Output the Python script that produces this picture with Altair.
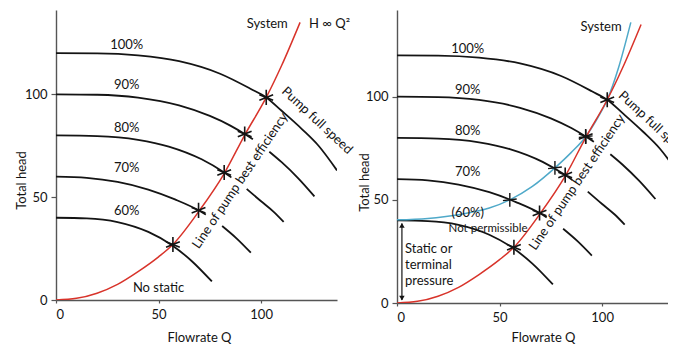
import altair as alt
import pandas as pd

FONT = "Lato"
INK = "#141414"
AXIS = "#555555"
RED = "#d8332a"
BLUE = "#4fa9c9"
FS = 13

# ---- pump curves (flow Q, head H) ----
Q_100 = [0, 20, 40, 60, 80, 95, 102.5, 110, 120, 128, 137]
H_100 = [120, 119.9, 118.9, 116.1, 110, 102.6, 98.5, 92, 83, 75, 63]
Q_90 = [0, 20, 40, 60, 75, 85, 92, 96]
H_90 = [100, 99.8, 98.4, 94.6, 89.5, 84.8, 80.7, 78.1]
Q_90_TAIL = [104, 110, 118, 126]
H_90_TAIL = [72.1, 67, 59.3, 50.4]
Q_80 = [0, 20, 40, 55, 71, 82, 85.5]
H_80 = [80, 79.7, 77.9, 74.6, 68.4, 62, 59.6]
Q_80_TAIL = [93, 100, 106, 111]
H_80_TAIL = [54, 48, 43, 38]
Q_70 = [0, 15, 30, 45, 58, 69.5, 73]
H_70 = [60, 59.4, 57.4, 53.7, 48.9, 43.6, 41.5]
Q_70_TAIL = [81, 88, 95]
H_70_TAIL = [36, 30, 23]
Q_60 = [0, 15, 30, 45, 56, 66, 76]
H_60 = [40, 39.7, 37.9, 33.1, 27, 19.1, 9]

# system curve with no static head (red)
Q_SYS = [0, 10, 20, 30, 40, 50, 57, 70, 82, 92, 102.5, 110, 119]
H_SYS = [0, 0.8, 3.3, 7.6, 13.8, 21, 27, 43.6, 61.5, 80.2, 98.5, 114, 135]
# system curve with static head (blue, right panel)
Q_BLUE = [0, 15, 30, 45, 55, 66, 77, 85, 92, 98, 102.5, 108, 114]
H_BLUE = [40.3, 41, 42.8, 46, 50, 56.5, 65.5, 73, 80.6, 90, 98.5, 114, 136]

# best efficiency points (stars) and blue operating points (crosses)
STAR_Q = [57, 69.5, 82, 92, 102.5]
STAR_H = [27, 43.6, 62, 80.7, 98.5]
CROSS_Q = [55, 77, 92]
CROSS_H = [50, 65.5, 80.6]

SPEED_LABELS = ["100%", "90%", "80%", "70%", "60%"]
LABEL_H_LEFT = [124, 104.3, 83.6, 64, 43.5]
LABEL_H_RIGHT = [123, 103.4, 83.6, 63.3, 43.5]

X_TICKS = [0, 50, 100]
Y_TICKS = [0, 50, 100]

STAR_PATH = "M0,-1.1L0,1.1M-1,-0.4L1,0.4M-1,0.4L1,-0.4"
CROSS_PATH = "M0,-1L0,1M-1,0.12L1,-0.12"

pump_parts = [
    ("100", Q_100, H_100), ("90a", Q_90, H_90), ("90b", Q_90_TAIL, H_90_TAIL),
    ("80a", Q_80, H_80), ("80b", Q_80_TAIL, H_80_TAIL),
    ("70a", Q_70, H_70), ("70b", Q_70_TAIL, H_70_TAIL), ("60", Q_60, H_60),
]
pump_df = pd.DataFrame(
    [{"Q": q, "H": h, "seg": name} for name, qs, hs in pump_parts for q, h in zip(qs, hs)]
)
sys_df = pd.DataFrame({"Q": Q_SYS, "H": H_SYS})
blue_df = pd.DataFrame({"Q": Q_BLUE, "H": H_BLUE})
star_df = pd.DataFrame({"Q": STAR_Q, "H": STAR_H})
cross_df = pd.DataFrame({"Q": CROSS_Q, "H": CROSS_H})

PX_PER_UNIT = 281 / 137


def txt(df, **kw):
    opts = dict(font=FONT, fontSize=FS, color=INK, align="center", baseline="middle")
    opts.update(kw)
    return alt.Chart(df).mark_text(**opts).encode(x="Q:Q", y="H:Q", text="t:N")


def make_panel(right):
    width = 271 if right else 281
    xmax = width / PX_PER_UNIT
    height = 293 if right else 290
    ymax = 142 if right else 141
    x = alt.X("Q:Q", scale=alt.Scale(domain=[0, xmax], nice=False, zero=False),
              axis=alt.Axis(values=X_TICKS, title="Flowrate Q", titleX=146 if right else 143,
                            titleY=34 if right else 37, titleAlign="center", titleBaseline="middle",
                            tickSize=3, labelPadding=5))
    y = alt.Y("H:Q", scale=alt.Scale(domain=[0, ymax], nice=False, zero=False),
              axis=alt.Axis(values=Y_TICKS, title="Total head", titleX=-33 if right else -35,
                            titleY=172 if right else 170, titleAngle=270, titleAlign="center",
                            titleBaseline="middle", tickSize=5, labelPadding=4))
    layers = []
    layers.append(alt.Chart(pump_df).mark_line(color=INK, strokeWidth=1.8, interpolate="monotone", clip=True)
                  .encode(x=x, y=y, detail="seg:N"))
    if right:
        layers.append(alt.Chart(blue_df).mark_line(color=BLUE, strokeWidth=1.5, interpolate="monotone", clip=True)
                      .encode(x="Q:Q", y="H:Q"))
    layers.append(alt.Chart(sys_df).mark_line(color=RED, strokeWidth=1.5, interpolate="monotone", clip=True)
                  .encode(x="Q:Q", y="H:Q"))
    layers.append(alt.Chart(star_df).mark_point(shape=STAR_PATH, size=190, filled=False, color=INK, strokeWidth=1.6, opacity=1)
                  .encode(x="Q:Q", y="H:Q"))
    if right:
        layers.append(alt.Chart(cross_df).mark_point(shape=CROSS_PATH, size=190, filled=False, color=INK, strokeWidth=1.4, opacity=1)
                      .encode(x="Q:Q", y="H:Q"))

    # speed labels
    lab_h = LABEL_H_RIGHT if right else LABEL_H_LEFT
    texts = SPEED_LABELS[:4] + (["(60%)"] if right else ["60%"])
    layers.append(txt(pd.DataFrame({"Q": [34.5] * 5, "H": lab_h, "t": texts})))

    if right:
        plain = pd.DataFrame({"Q": [99.5], "H": [134], "t": ["System"]})
    else:
        plain = pd.DataFrame({"Q": [103, 50], "H": [134.3, 5.8], "t": ["System", "No static"]})
    layers.append(txt(plain))
    if not right:
        layers.append(txt(pd.DataFrame({"Q": [123.4], "H": [134.3], "t": ["H ∞ Q²"]}), align="left"))

    eff = pd.DataFrame({"Q": [87.8 if right else 89.8], "H": [58.5 if right else 58],
                        "t": ["Line of pump best efficiency"]})
    layers.append(txt(eff, angle=304))
    full = pd.DataFrame({"Q": [109 if right else 111], "H": [101.5 if right else 102.4], "t": ["Pump full speed"]})
    layers.append(txt(full, align="left", angle=43, clip=right))

    if right:
        layers.append(txt(pd.DataFrame({"Q": [44.4], "H": [35.7], "t": ["Not permissible"]}), fontSize=11.5))
        stat = pd.DataFrame({"Q": [3.9] * 3, "H": [26.1, 18.4, 10.6], "t": ["Static or", "terminal", "pressure"]})
        layers.append(txt(stat, align="left"))
        arr = pd.DataFrame({"Q": [2.4], "H0": [1.5], "H1": [38.5]})
        layers.append(alt.Chart(arr).mark_rule(color=INK, strokeWidth=1.2)
                      .encode(x="Q:Q", y="H0:Q", y2="H1:Q"))
        up = pd.DataFrame({"Q": [2.4], "H": [37.6]})
        down = pd.DataFrame({"Q": [2.4], "H": [2.4]})
        layers.append(alt.Chart(up).mark_point(shape="triangle-up", filled=True, size=30, color=INK, opacity=1)
                      .encode(x="Q:Q", y="H:Q"))
        layers.append(alt.Chart(down).mark_point(shape="triangle-down", filled=True, size=30, color=INK, opacity=1)
                      .encode(x="Q:Q", y="H:Q"))

    return alt.layer(*layers).properties(width=width, height=height)


chart = alt.hconcat(make_panel(False), make_panel(True), spacing=60, bounds="flush").properties(
    padding={"left": 7, "top": 2, "right": 0, "bottom": 0},
).configure_view(stroke=None).configure_axis(
    grid=False, domainColor=AXIS, domainWidth=1.4, tickColor=AXIS, tickWidth=1.2,
    labelFont=FONT, titleFont=FONT, labelFontSize=FS, titleFontSize=FS,
    labelColor=INK, titleColor=INK, titleFontWeight="normal",
)

chart.save("out.html", embed_options={"renderer": "svg", "actions": False})
